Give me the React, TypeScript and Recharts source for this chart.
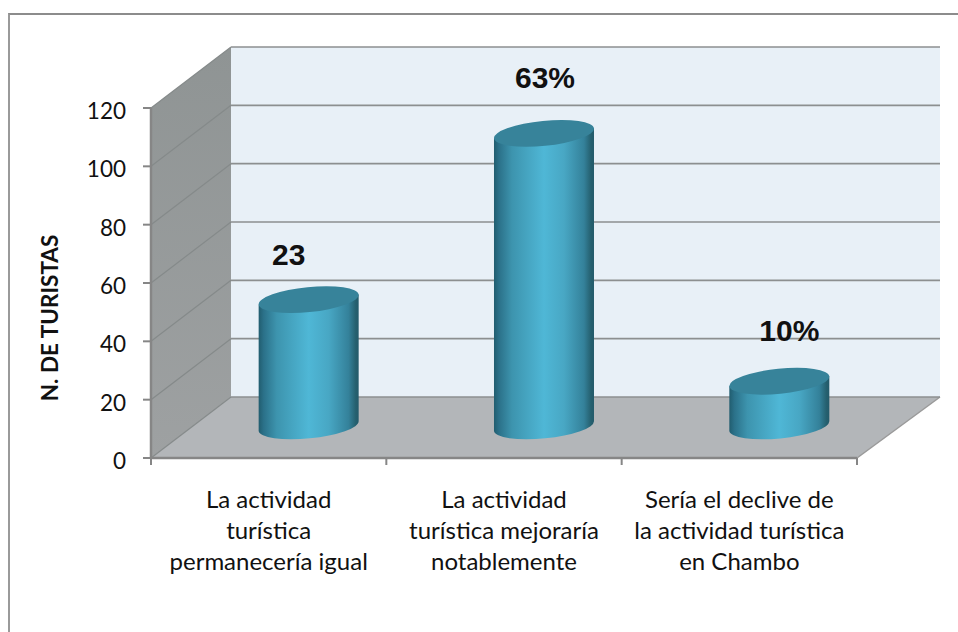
import React from "react";
import { BarChart, Bar, XAxis, YAxis, CartesianGrid, LabelList, Label } from "recharts";

const categoryLines = [
  ["La actividad", "turística", "permanecería igual"],
  ["La actividad", "turística mejoraría", "notablemente"],
  ["Sería el declive de", "la actividad turística", "en Chambo"],
];
const values = [43, 100, 15];
const dataLabels = ["23", "63%", "10%"];
const yTicks = [0, 20, 40, 60, 80, 100, 120];
const axisTitle = "N. DE TURISTAS";

const data = categoryLines.map((l, i) => ({ name: l.join(" "), value: values[i], label: dataLabels[i] }));

const W = 958, H = 632;
const PLOT = { left: 151, right: 857, top: 108, bottom: 458 };
const DEPTH = { dx: 80, dxRight: 83, dy: 61 };
const BAR_SHIFT = { dx: 40, dyTop: 33, dyBottom: 32 };
const LABEL_SHIFT = [{ dx: 20, dy: -68 }, { dx: 41, dy: -78 }, { dx: 50, dy: -73 }];
const GREY = "#868686";
const FONT = "Lato, 'Open Sans', sans-serif";

function Walls() {
  const { left: l, right: r, top: t, bottom: b } = PLOT;
  const { dx, dxRight, dy } = DEPTH;
  return (
    <svg width={W} height={H} style={{ position: "absolute", left: 0, top: 0 }}>
      <defs>
        <linearGradient id="sideWall" x1="0" y1="0" x2="0" y2="1">
          <stop offset="0" stopColor="#8f9494" />
          <stop offset="1" stopColor="#9ea1a2" />
        </linearGradient>
      </defs>
      <rect x={l + dx} y={t - dy} width={r + dxRight - l - dx} height={b - t} fill="#e8f0f7" />
      <polygon points={`${l},${t} ${l + dx},${t - dy} ${l + dx},${b - dy} ${l},${b}`} fill="url(#sideWall)" />
      <polygon points={`${l},${b} ${r},${b} ${r + dxRight},${b - dy} ${l + dx},${b - dy}`} fill="#b3b6b9" />
      <line x1={r} y1={b} x2={r + dxRight} y2={b - dy} stroke="#9a9a9a" strokeWidth={1.5} />
    </svg>
  );
}

function GridLine(props: any) {
  const { x1, x2, y1 } = props;
  const bx = x1 + DEPTH.dx;
  const by = y1 - DEPTH.dy;
  return (
    <g>
      <line x1={x1} y1={y1} x2={bx} y2={by} stroke="#858a8a" strokeWidth={1.2} />
      <line x1={bx} y1={by} x2={x2 + DEPTH.dxRight} y2={by} stroke="#8c8f90" strokeWidth={1.6} />
    </g>
  );
}

function Cylinder(props: any) {
  const { x, y, width, height } = props;
  const cx = x + width / 2 + BAR_SHIFT.dx;
  const top = y - BAR_SHIFT.dyTop;
  const bot = y + height - BAR_SHIFT.dyBottom;
  const hw = width / 2;
  const tilt = 5;
  const rot = -5.7;
  const rx = hw * 1.005;
  const ry = 12.5;
  return (
    <g>
      <path
        d={`M${cx - hw},${top + tilt} L${cx - hw},${bot + tilt} A${rx},${ry} ${rot} 0 0 ${cx + hw},${bot - tilt} L${cx + hw},${top - tilt} Z`}
        fill="url(#cylBody)"
      />
      <ellipse cx={cx} cy={top} rx={rx} ry={ry} transform={`rotate(${rot} ${cx} ${top})`} fill="#37839a" />
    </g>
  );
}

function XTick(props: any) {
  const { x, index } = props;
  const band = (PLOT.right - PLOT.left) / categoryLines.length;
  const left = x - band / 2;
  return (
    <g>
      <line x1={left} y1={PLOT.bottom} x2={left} y2={PLOT.bottom + 7} stroke={GREY} strokeWidth={2} />
      {index === categoryLines.length - 1 && (
        <line x1={left + band} y1={PLOT.bottom} x2={left + band} y2={PLOT.bottom + 7} stroke={GREY} strokeWidth={2} />
      )}
      <text textAnchor="middle" fontFamily={FONT} fontSize={24} fill="#111">
        {categoryLines[index].map((t: string, i: number) => (
          <tspan key={i} x={x} y={PLOT.bottom + 50 + i * 31}>{t}</tspan>
        ))}
      </text>
    </g>
  );
}

function YTick(props: any) {
  const { x, y, payload } = props;
  return (
    <text x={x} y={y + 11} textAnchor="end" fontFamily={FONT} fontSize={22.5} fill="#111">
      {payload.value}
    </text>
  );
}

function BarLabel(props: any) {
  const { x, y, width, index, value } = props;
  const s = LABEL_SHIFT[index];
  return (
    <text x={x + width / 2 + s.dx} y={y + s.dy} textAnchor="middle" fontFamily="'Liberation Sans', Arial, sans-serif" fontWeight={700} fontSize={30} fill="#111">
      {value}
    </text>
  );
}

export default function App() {
  return (
    <div style={{ position: "absolute", left: 0, top: 0, width: W, height: H, background: "#fff", overflow: "hidden" }}>
      <div style={{ position: "absolute", left: 8, top: 13, width: W, height: H, borderTop: "2.5px solid #8c8c8c", borderLeft: "2.5px solid #9a9a9a" }} />
      <Walls />
      <BarChart
        width={W}
        height={H}
        data={data}
        barCategoryGap="28.75%"
        margin={{ top: PLOT.top, left: PLOT.left - 70, right: W - PLOT.right, bottom: H - PLOT.bottom - 60 }}
        style={{ position: "absolute", left: 0, top: 0 }}
      >
        <defs>
          <linearGradient id="cylBody" x1="0" y1="0" x2="1" y2="0">
            <stop offset="0" stopColor="#215d6f" />
            <stop offset="0.05" stopColor="#2b7189" />
            <stop offset="0.18" stopColor="#3d94ae" />
            <stop offset="0.5" stopColor="#4fb7d6" />
            <stop offset="0.7" stopColor="#48a7c4" />
            <stop offset="0.9" stopColor="#34819a" />
            <stop offset="0.97" stopColor="#25606f" />
            <stop offset="1" stopColor="#235a6a" />
          </linearGradient>
        </defs>
        <CartesianGrid vertical={false} horizontal={(p: any) => <GridLine {...p} />} syncWithTicks />
        <XAxis
          dataKey="name"
          interval={0}
          height={60}
          tickLine={false}
          axisLine={{ stroke: GREY, strokeWidth: 2.5 }}
          tick={(p: any) => <XTick {...p} />}
        />
        <YAxis
          width={70}
          domain={[0, 120]}
          ticks={yTicks}
          tickSize={8}
          tickMargin={17}
          axisLine={{ stroke: GREY, strokeWidth: 2.5 }}
          tickLine={{ stroke: GREY, strokeWidth: 2 }}
          tick={(p: any) => <YTick {...p} />}
        >
          <Label
            value={axisTitle}
            content={() => (
              <text transform="translate(58 318) rotate(-90)" textAnchor="middle" fontFamily={FONT} fontWeight={700} fontSize={22.5} fill="#111">
                {axisTitle}
              </text>
            )}
          />
        </YAxis>
        <Bar dataKey="value" isAnimationActive={false} shape={(p: any) => <Cylinder {...p} />}>
          <LabelList dataKey="label" content={(p: any) => <BarLabel {...p} />} />
        </Bar>
      </BarChart>
    </div>
  );
}
